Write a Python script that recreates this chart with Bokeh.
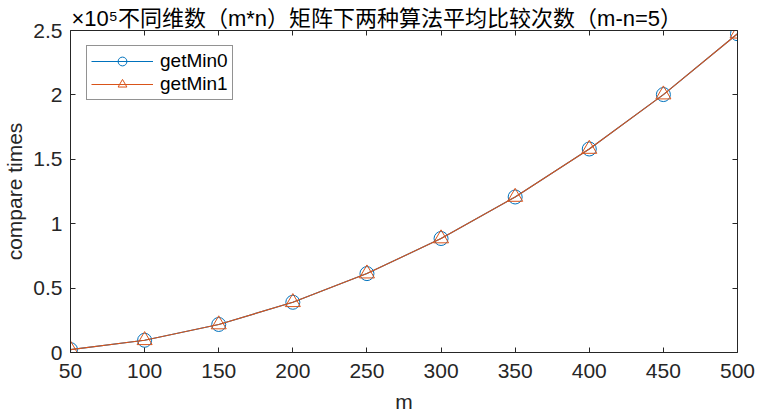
from bokeh.plotting import figure
from bokeh.models import (LinearAxis, FixedTicker, Legend, LegendItem, Range1d,
                          CustomJSTickFormatter)
from bokeh.embed import file_html
from bokeh.resources import INLINE

# ---- data ----
m = [50, 100, 150, 200, 250, 300, 350, 400, 450, 500]
getMin0 = [2250, 9500, 21750, 39000, 61250, 88500, 120750, 158000, 200250, 247500]
getMin1 = [2250, 9500, 21750, 39000, 61250, 88500, 120750, 158000, 200250, 247500]
x_ticks = [50, 100, 150, 200, 250, 300, 350, 400, 450, 500]
y_ticks = [0, 50000, 100000, 150000, 200000, 250000]
y_tick_labels = ["0", "0.5", "1", "1.5", "2", "2.5"]
exponent_text = "×10⁵"
title_text = "不同维数（m*n）矩阵下两种算法平均比较次数（m-n=5）"
x_label = "m"
y_label = "compare times"
series_names = ["getMin0", "getMin1"]

BLUE = "#0072BD"
ORANGE = "#D95319"
AX = "#262626"
LATIN = "Liberation Sans"
MIXED = "'Liberation Sans', 'Noto Sans CJK SC'"

p = figure(width=757, height=416, output_backend="svg", toolbar_location=None,
           x_range=Range1d(50, 500), y_range=Range1d(0, 250000),
           min_border_left=69, min_border_right=20, min_border_top=30, min_border_bottom=64,
           x_axis_label=x_label, y_axis_label=y_label)
p.background_fill_color = "white"
p.border_fill_color = "white"
p.outline_line_color = None
p.xgrid.visible = False
p.ygrid.visible = False

def style_axis(ax, show_labels=True):
    ax.axis_line_color = AX
    ax.axis_line_width = 1
    ax.major_tick_line_color = AX
    ax.major_tick_in = 5
    ax.major_tick_out = 0
    ax.minor_tick_line_color = None
    ax.major_label_text_color = AX
    ax.major_label_text_font = LATIN
    ax.axis_label_text_font = LATIN
    ax.axis_label_text_font_style = "normal"
    ax.axis_label_text_color = AX
    ax.major_label_text_font_size = "21px"
    ax.axis_label_text_font_size = "21px"
    if not show_labels:
        ax.formatter = CustomJSTickFormatter(code="return ''")
        ax.major_label_standoff = 0

xt = FixedTicker(ticks=x_ticks)
yt = FixedTicker(ticks=y_ticks)
ylab = {t: l for t, l in zip(y_ticks, y_tick_labels)}

bx = p.xaxis[0]
bx.ticker = xt
style_axis(bx)
bx.major_label_standoff = 11
bx.axis_label_standoff = 9

ly = p.yaxis[0]
ly.ticker = yt
ly.major_label_overrides = ylab
style_axis(ly)
ly.major_label_standoff = 8
ly.axis_label_standoff = 4

top = LinearAxis(ticker=xt, axis_label=None)
style_axis(top, False)
p.add_layout(top, "above")
right = LinearAxis(ticker=yt, axis_label=None)
style_axis(right, False)
p.add_layout(right, "right")

l0 = p.line(m, getMin0, line_color=BLUE, line_width=1.1)
s0 = p.scatter(m, getMin0, marker="circle", size=14, line_color=BLUE, fill_color=None, line_width=1)
l1 = p.line(m, getMin1, line_color=ORANGE, line_width=1.1)
s1 = p.scatter(m, getMin1, marker="triangle", size=15, line_color=ORANGE, fill_color=None, line_width=1)

legend = Legend(items=[LegendItem(label=series_names[0], renderers=[l0, s0]),
                       LegendItem(label=series_names[1], renderers=[l1, s1])],
                location=(16, 252), orientation="vertical")
legend.label_text_font = LATIN
legend.label_text_font_size = "19px"
legend.label_text_color = "black"
legend.border_line_color = AX
legend.border_line_width = 1
legend.background_fill_color = "white"
legend.background_fill_alpha = 1
legend.glyph_width = 62
legend.glyph_height = 22
legend.label_height = 22
legend.label_width = 10
legend.label_standoff = 7
legend.spacing = 1
legend.padding = 4
legend.margin = 0
p.add_layout(legend, "center")

p.title.text = exponent_text + title_text
p.title.align = "left"
p.title.offset = 1
p.title.text_font = MIXED
p.title.text_font_size = "22px"
p.title.text_font_style = "normal"
p.title.text_color = "black"
p.title.standoff = 0

open("out.html", "w").write(file_html(p, INLINE))
